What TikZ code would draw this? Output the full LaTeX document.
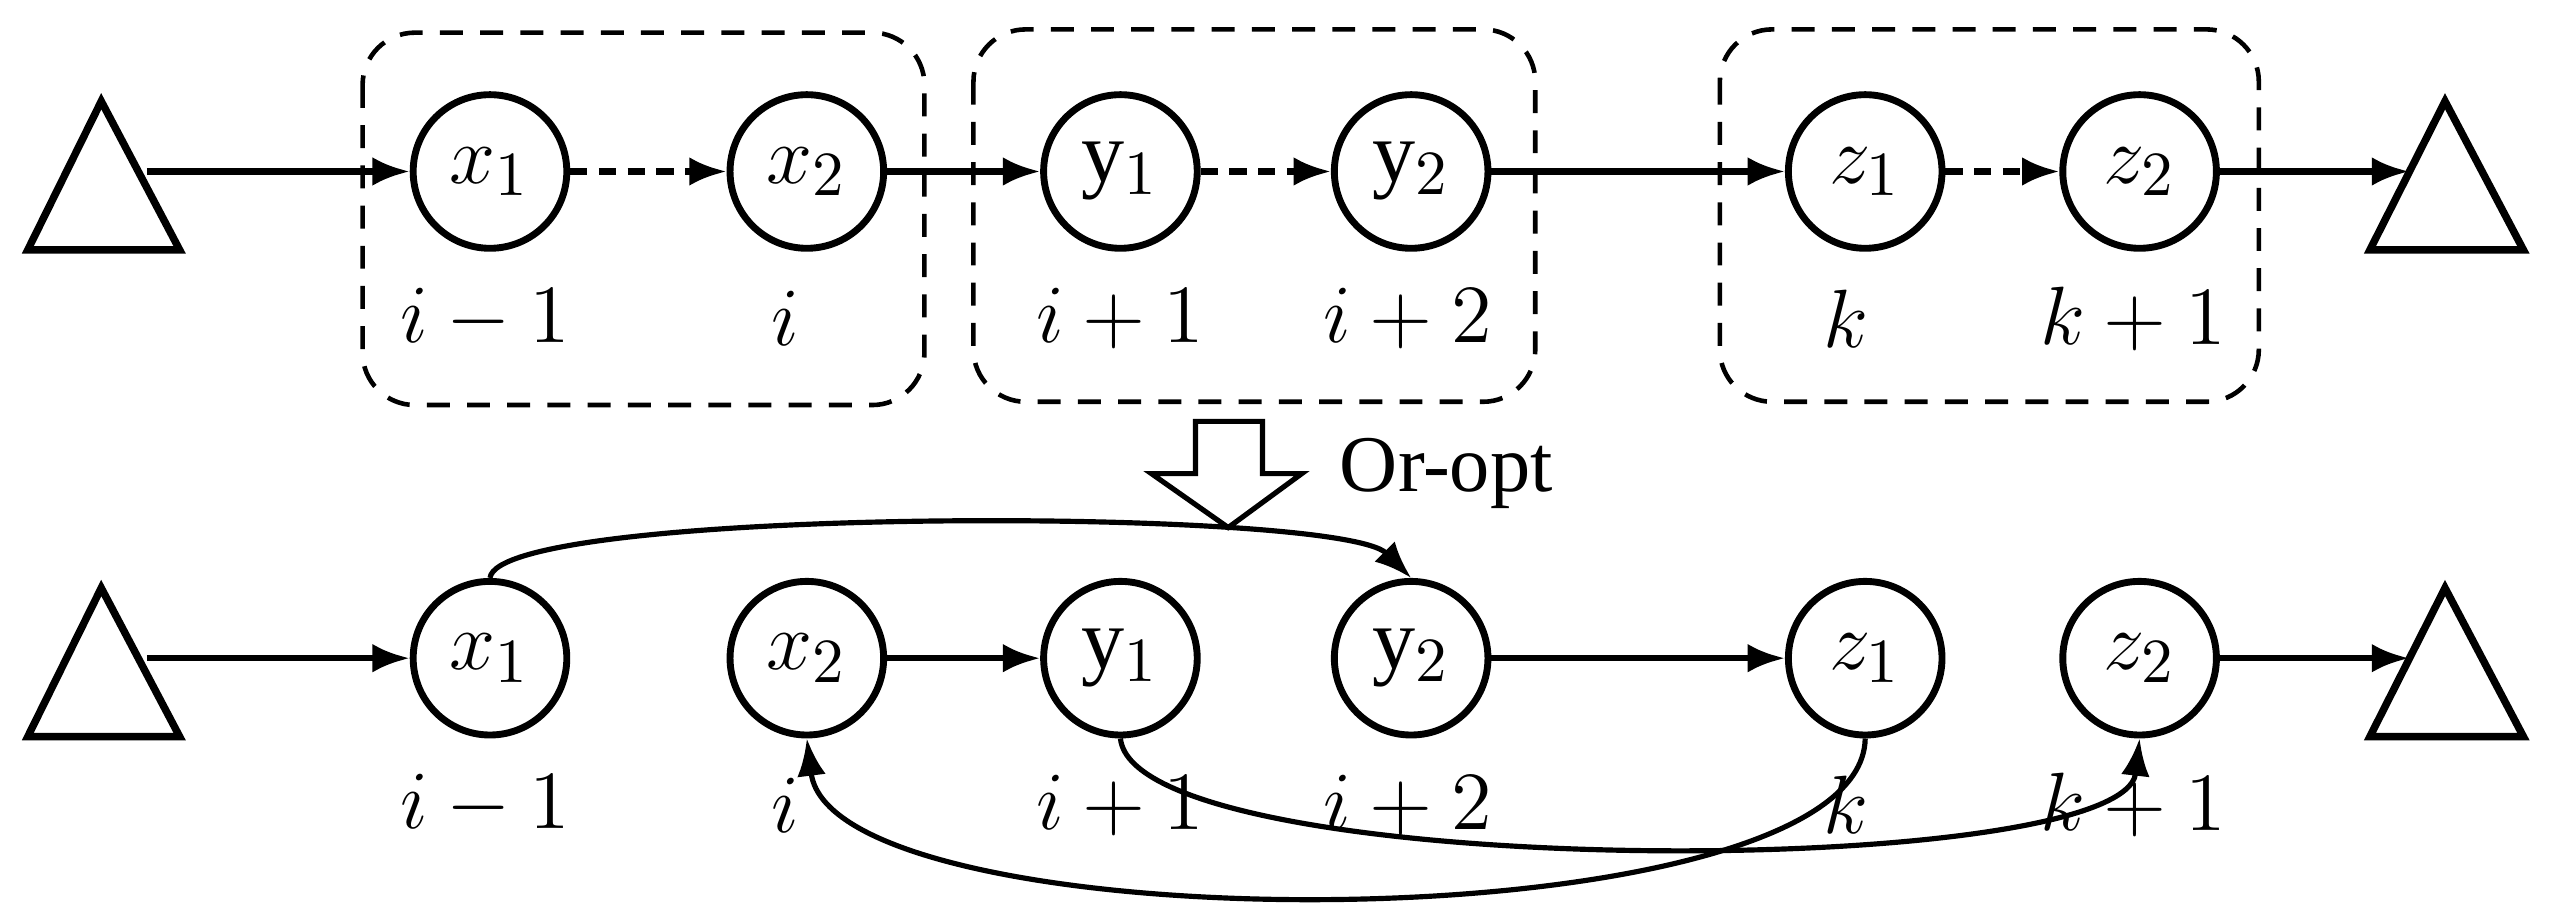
\documentclass[tikz,border=0pt]{standalone}
\usepackage{fontspec}
\setmainfont{Liberation Serif}
\usetikzlibrary{arrows.meta,shapes.geometric,calc}
\begin{document}
\begin{tikzpicture}[x=0.01cm,y=-0.01cm,
  nd/.style={circle,draw,line width=1.2pt,minimum size=0.94cm,inner sep=0pt,font=\fontsize{15}{18}\selectfont},
  lb/.style={font=\fontsize{14}{17}\selectfont},
  tri/.style={draw,line width=1.3pt,fill=white},
  ar/.style={line width=1.1pt,-{Latex[length=6.5pt,width=5pt]}},
  da/.style={ar,dash pattern=on 3pt off 2pt},
  cu/.style={line width=0.9pt,-{Latex[length=6.5pt,width=5pt]}},
  box/.style={draw,dash pattern=on 4pt off 3pt,line width=0.8pt,rounded corners=0.32cm}]
\useasboundingbox (0,0) rectangle (1568,561);
% boxes
\draw[box] (222,20) rectangle (566,248);
\draw[box] (596,18) rectangle (940,246);
\draw[box] (1053,18) rectangle (1383,246);
% triangles
\draw[tri] (17,153) -- (62,62) -- (110,153) -- cycle;
\draw[tri] (1451,153) -- (1497,62) -- (1545,153) -- cycle;
\draw[tri] (17,451) -- (62,360) -- (110,451) -- cycle;
\draw[tri] (1451,451) -- (1497,360) -- (1545,451) -- cycle;
\coordinate (ta) at (90,105); \coordinate (tb) at (1475,105);
\coordinate (ba) at (90,403); \coordinate (bb) at (1475,403);
% top nodes
\node[nd] (a1) at (300,105) {$x_1$};
\node[nd] (a2) at (494,105) {$x_2$};
\node[nd] (a3) at (686,105) {$\mathrm{y}_1$};
\node[nd] (a4) at (864,105) {$\mathrm{y}_2$};
\node[nd] (a5) at (1142,105) {$z_1$};
\node[nd] (a6) at (1310,105) {$z_2$};
\node[lb] (l1) at (297,195) {$i-1$};
\node[lb] (l2) at (481,195) {$i$};
\node[lb] (l3) at (686,195) {$i+1$};
\node[lb] (l4) at (862,195) {$i+2$};
\node[lb] (l5) at (1130,195) {$k$};
\node[lb] (l6) at (1306,195) {$k+1$};
\draw[ar] (ta) -- (a1);
\draw[da] (a1) -- (a2);
\draw[ar] (a2) -- (a3);
\draw[da] (a3) -- (a4);
\draw[ar] (a4) -- (a5);
\draw[da] (a5) -- (a6);
\draw[ar] (a6) -- (tb);
% block arrow
\draw[line width=0.9pt,fill=white] (732,258) -- (773,258) -- (773,290) -- (797,290) -- (752,323) -- (705,290) -- (732,290) -- cycle;
\node[font=\fontsize{14}{17}\selectfont,anchor=west] (or) at (808,290) {Or-opt};
% bottom nodes
\node[nd] (b1) at (300,403) {$x_1$};
\node[nd] (b2) at (494,403) {$x_2$};
\node[nd] (b3) at (686,403) {$\mathrm{y}_1$};
\node[nd] (b4) at (864,403) {$\mathrm{y}_2$};
\node[nd] (b5) at (1142,403) {$z_1$};
\node[nd] (b6) at (1310,403) {$z_2$};
\node[lb] (m1) at (297,493) {$i-1$};
\node[lb] (m2) at (481,493) {$i$};
\node[lb] (m3) at (686,493) {$i+1$};
\node[lb] (m4) at (862,493) {$i+2$};
\node[lb] (m5) at (1130,493) {$k$};
\node[lb] (m6) at (1306,493) {$k+1$};
\draw[ar] (ba) -- (b1);
\draw[ar] (b2) -- (b3);
\draw[ar] (b4) -- (b5);
\draw[ar] (b6) -- (bb);
\draw[cu] (b1.north) .. controls (305,310) and (820,310) .. (b4.north);
\draw[cu] (b3.south) .. controls (695,540) and (1300,540) .. (b6.south);
\draw[cu] (b5.south) .. controls (1140,580) and (510,580) .. (b2.south);
\end{tikzpicture}
\end{document}
